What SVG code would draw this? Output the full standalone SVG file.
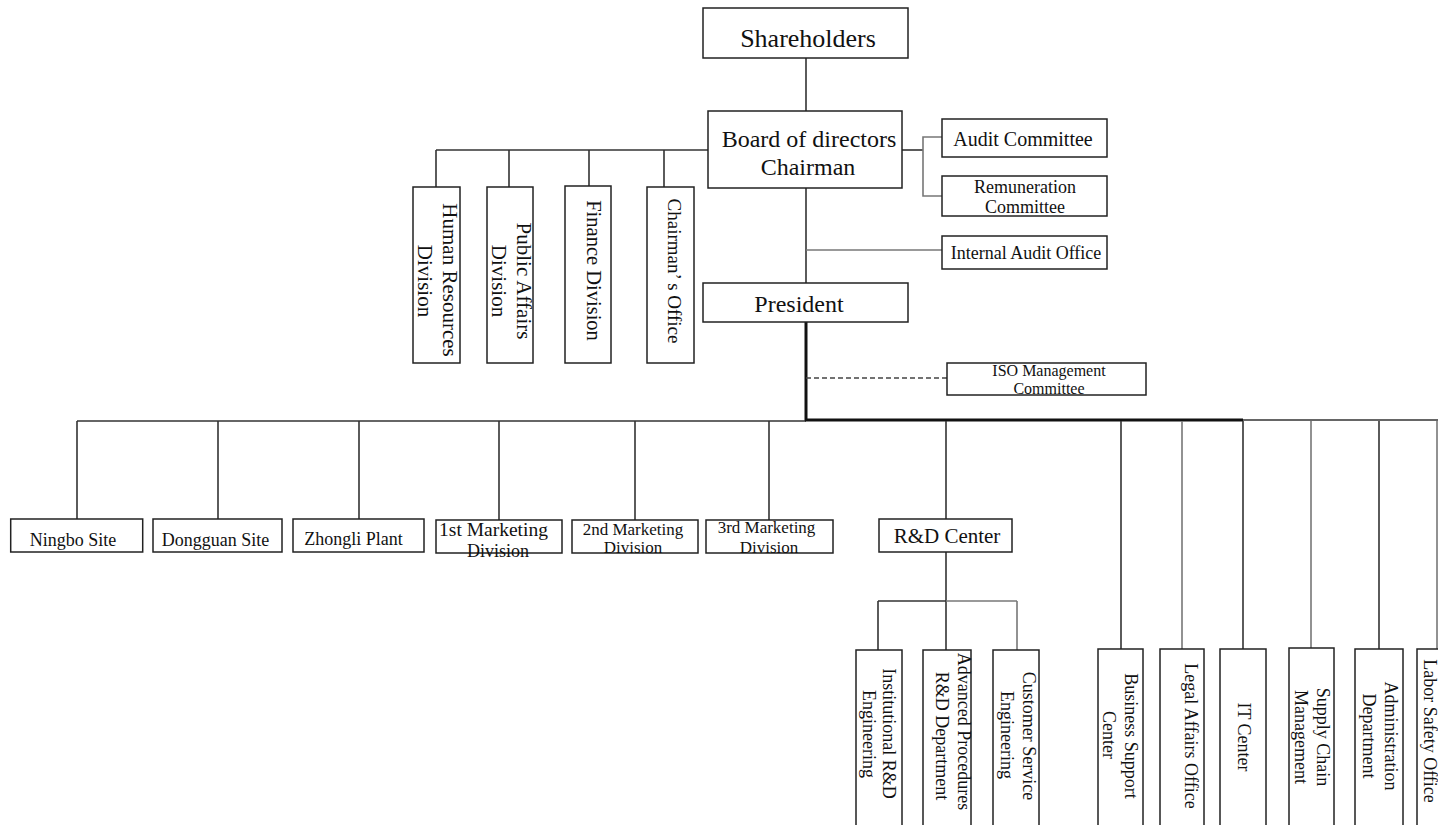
<svg xmlns="http://www.w3.org/2000/svg" width="1438" height="825" viewBox="0 0 1438 825">
<style>
  .box { fill: #ffffff; stroke: #222222; stroke-width: 1.5; }
  .t { font-family: "Liberation Serif", "Times New Roman", serif; fill: #111111; text-anchor: middle; }
  .ln { fill: none; stroke: #333333; stroke-width: 1.6; }
  .g { stroke: #777777; }
  .thick { stroke: #111111; stroke-width: 3; }
  .dash { fill: none; stroke: #444444; stroke-width: 1.6; stroke-dasharray: 5 3; }
</style>
<rect x="0" y="0" width="1438" height="825" fill="#ffffff"/>

<g id="connectors">
  <line class="ln" x1="806" y1="58" x2="806" y2="111"/>
  <line class="ln" x1="806" y1="188" x2="806" y2="283"/>
  <line class="ln" x1="436" y1="150" x2="708" y2="150"/>
  <line class="ln" x1="436" y1="150" x2="436" y2="187"/>
  <line class="ln" x1="509" y1="150" x2="509" y2="187"/>
  <line class="ln" x1="589" y1="150" x2="589" y2="186"/>
  <line class="ln" x1="664" y1="150" x2="664" y2="187"/>
  <line class="ln" x1="902" y1="150" x2="923" y2="150" stroke-width="3"/>
  <polyline class="ln g" points="942,137 923,137 923,196 942,196" stroke-width="2"/>
  <line class="ln g" x1="806" y1="250" x2="942" y2="250" stroke-width="2"/>
  <line class="ln thick" x1="806" y1="322" x2="806" y2="421"/>
  <line class="dash" x1="806" y1="378" x2="947" y2="378"/>
  <line class="ln" x1="77" y1="421" x2="806" y2="421" stroke-width="2"/>
  <line class="ln thick" x1="805" y1="420" x2="1243" y2="420"/>
  <line class="ln" x1="1243" y1="420" x2="1438" y2="420" stroke-width="2"/>
  <line class="ln" x1="77" y1="421" x2="77" y2="519"/>
  <line class="ln" x1="218" y1="421" x2="218" y2="519"/>
  <line class="ln" x1="359" y1="421" x2="359" y2="519"/>
  <line class="ln" x1="499" y1="421" x2="499" y2="520"/>
  <line class="ln" x1="635" y1="421" x2="635" y2="520"/>
  <line class="ln" x1="769" y1="421" x2="769" y2="520"/>
  <line class="ln" x1="946" y1="421" x2="946" y2="519"/>
  <line class="ln" x1="1121" y1="421" x2="1121" y2="649"/>
  <line class="ln g" x1="1182" y1="421" x2="1182" y2="649"/>
  <line class="ln" x1="1243" y1="421" x2="1243" y2="649"/>
  <line class="ln g" x1="1311" y1="421" x2="1311" y2="648"/>
  <line class="ln" x1="1379" y1="421" x2="1379" y2="649"/>
  <line class="ln g" x1="1437" y1="421" x2="1437" y2="649"/>
  <line class="ln" x1="946" y1="552" x2="946" y2="650"/>
  <line class="ln" x1="878" y1="601" x2="946" y2="601"/>
  <line class="ln g" x1="946" y1="601" x2="1017" y2="601"/>
  <line class="ln" x1="878" y1="601" x2="878" y2="650"/>
  <line class="ln g" x1="1017" y1="601" x2="1017" y2="650"/>
</g>

<g id="shareholders">
  <rect class="box" x="703" y="8" width="205" height="50"/>
  <text class="t" x="808" y="47" font-size="26">Shareholders</text>
</g>
<g id="board">
  <rect class="box" x="708" y="111" width="194" height="77"/>
  <text class="t" x="809" y="147" font-size="24">Board of directors</text>
  <text class="t" x="808" y="175" font-size="24">Chairman</text>
</g>
<g id="audit-committee">
  <rect class="box" x="942" y="119" width="165" height="38"/>
  <text class="t" x="1023" y="146" font-size="20">Audit Committee</text>
</g>
<g id="remuneration-committee">
  <rect class="box" x="942" y="176" width="165" height="40"/>
  <text class="t" x="1025" y="193" font-size="18">Remuneration</text>
  <text class="t" x="1025" y="213" font-size="18">Committee</text>
</g>
<g id="internal-audit">
  <rect class="box" x="942" y="236" width="165" height="33"/>
  <text class="t" x="1026" y="259" font-size="18">Internal Audit Office</text>
</g>
<g id="president">
  <rect class="box" x="703" y="283" width="205" height="39"/>
  <text class="t" x="799" y="312" font-size="24">President</text>
</g>
<g id="iso">
  <rect class="box" x="947" y="363" width="199" height="32"/>
  <text class="t" x="1049" y="376" font-size="16">ISO Management</text>
  <text class="t" x="1049" y="394" font-size="16">Committee</text>
</g>

<g id="hr">
  <rect class="box" x="413" y="187" width="47" height="176"/>
  <text class="t" font-size="21" transform="translate(443,280) rotate(90)">Human Resources</text>
  <text class="t" font-size="21" transform="translate(418,281) rotate(90)">Division</text>
</g>
<g id="public-affairs">
  <rect class="box" x="487" y="187" width="46" height="176"/>
  <text class="t" font-size="21" transform="translate(517,281) rotate(90)">Public Affairs</text>
  <text class="t" font-size="21" transform="translate(492,281) rotate(90)">Division</text>
</g>
<g id="finance">
  <rect class="box" x="565" y="186" width="46" height="177"/>
  <text class="t" font-size="20.5" transform="translate(587,270.5) rotate(90)">Finance Division</text>
</g>
<g id="chairmans-office">
  <rect class="box" x="647" y="187" width="47" height="176"/>
  <text class="t" font-size="19" transform="translate(668,271) rotate(90)">Chairman’ s Office</text>
</g>

<g id="ningbo">
  <rect class="box" x="10.7" y="519" width="132" height="33"/>
  <text class="t" x="73" y="546" font-size="18">Ningbo Site</text>
</g>
<g id="dongguan">
  <rect class="box" x="153" y="519" width="129" height="33"/>
  <text class="t" x="215.5" y="546" font-size="18">Dongguan Site</text>
</g>
<g id="zhongli">
  <rect class="box" x="293" y="519" width="131" height="33"/>
  <text class="t" x="353.5" y="545" font-size="18">Zhongli Plant</text>
</g>
<g id="mkt1">
  <rect class="box" x="436" y="520" width="126" height="33"/>
  <text class="t" x="493.5" y="536" font-size="19.5">1st Marketing</text>
  <text class="t" x="498" y="557" font-size="18">Division</text>
</g>
<g id="mkt2">
  <rect class="box" x="572" y="520" width="126" height="33"/>
  <text class="t" x="633" y="535" font-size="17">2nd Marketing</text>
  <text class="t" x="633" y="553" font-size="17">Division</text>
</g>
<g id="mkt3">
  <rect class="box" x="706" y="520" width="127" height="33"/>
  <text class="t" x="766.5" y="533" font-size="17">3rd Marketing</text>
  <text class="t" x="769" y="553" font-size="17">Division</text>
</g>
<g id="rd-center">
  <rect class="box" x="879" y="519" width="133" height="33"/>
  <text class="t" x="947" y="543" font-size="21">R&amp;D Center</text>
</g>

<g id="institutional-rd">
  <rect class="box" x="856" y="650" width="46" height="185"/>
  <text class="t" font-size="18" transform="translate(883,733.5) rotate(90)">Institutional R&amp;D</text>
  <text class="t" font-size="18" transform="translate(863,734) rotate(90)">Engineering</text>
</g>
<g id="advanced-rd">
  <rect class="box" x="923" y="650" width="48" height="185"/>
  <text class="t" font-size="18" transform="translate(958,731.5) rotate(90)">Advanced Procedures</text>
  <text class="t" font-size="18" transform="translate(936,736) rotate(90)">R&amp;D Department</text>
</g>
<g id="customer-service">
  <rect class="box" x="993" y="650" width="46" height="185"/>
  <text class="t" font-size="18" transform="translate(1023,736) rotate(90)">Customer Service</text>
  <text class="t" font-size="18" transform="translate(1001,735) rotate(90)">Engineering</text>
</g>

<g id="business-support">
  <rect class="box" x="1098" y="649" width="45" height="186"/>
  <text class="t" font-size="18" transform="translate(1125,736) rotate(90)">Business Support</text>
  <text class="t" font-size="18" transform="translate(1103,735) rotate(90)">Center</text>
</g>
<g id="legal">
  <rect class="box" x="1160" y="649" width="44" height="186"/>
  <text class="t" font-size="18" transform="translate(1185,736) rotate(90)">Legal Affairs Office</text>
</g>
<g id="it">
  <rect class="box" x="1220" y="649" width="46" height="186"/>
  <text class="t" font-size="18" transform="translate(1238,737) rotate(90)">IT Center</text>
</g>
<g id="supply-chain">
  <rect class="box" x="1289" y="648" width="45" height="187"/>
  <text class="t" font-size="18" transform="translate(1317,737) rotate(90)">Supply Chain</text>
  <text class="t" font-size="18" transform="translate(1295,737) rotate(90)">Management</text>
</g>
<g id="administration">
  <rect class="box" x="1355" y="649" width="48" height="186"/>
  <text class="t" font-size="18" transform="translate(1385,736) rotate(90)">Administration</text>
  <text class="t" font-size="18" transform="translate(1363,736) rotate(90)">Department</text>
</g>
<g id="labor-safety">
  <rect class="box" x="1417" y="649" width="40" height="186"/>
  <text class="t" font-size="18" transform="translate(1423.5,731) rotate(90)">Labor Safety Office</text>
</g>
</svg>
